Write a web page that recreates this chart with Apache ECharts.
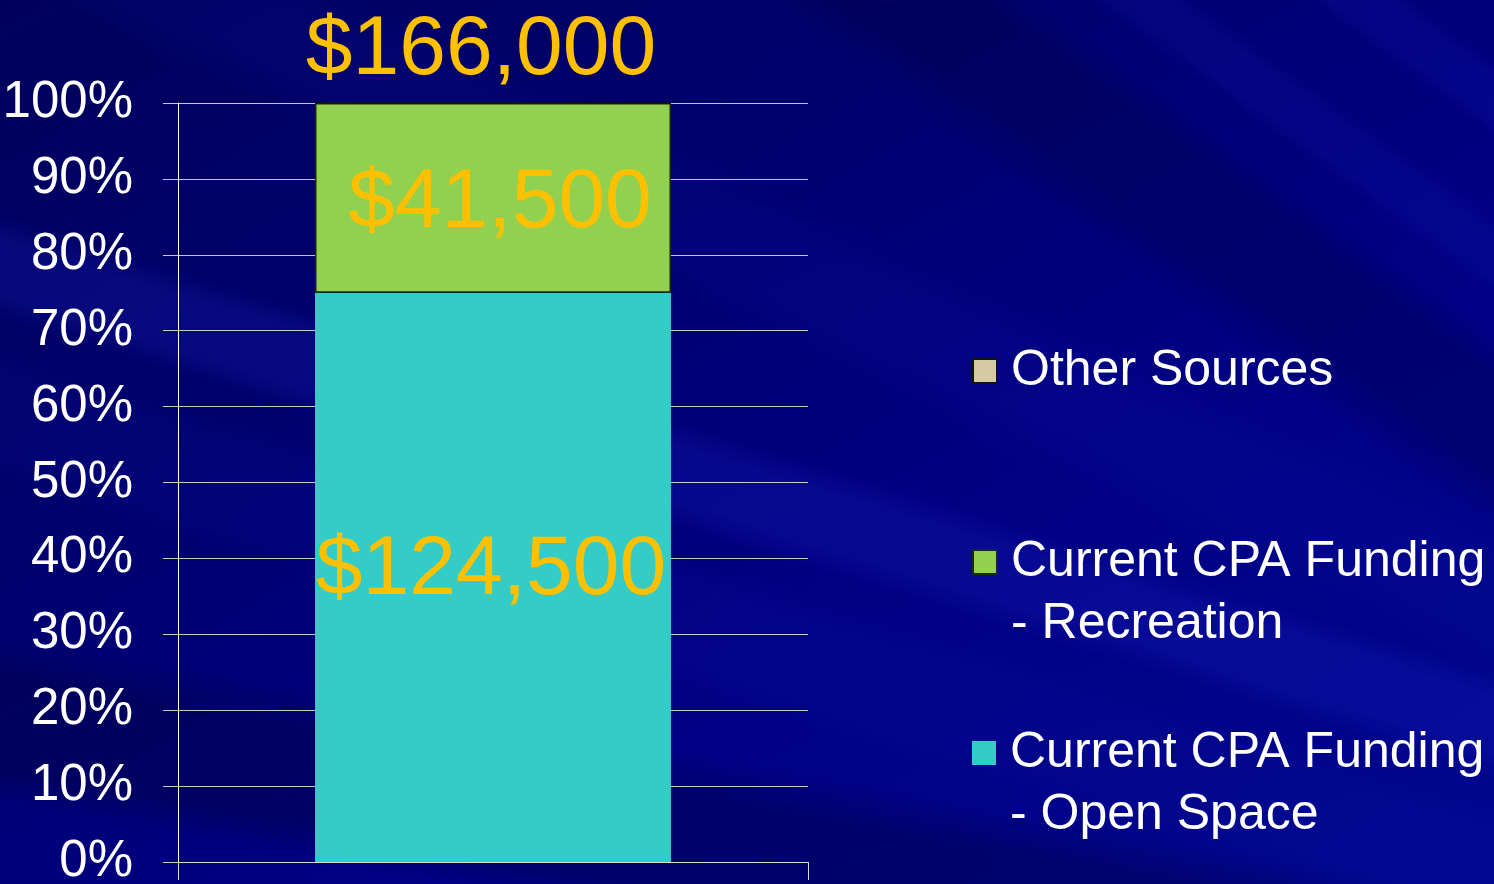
<!DOCTYPE html>
<html>
<head>
<meta charset="utf-8">
<script src="https://cdn.jsdelivr.net/npm/echarts@6/dist/echarts.min.js"></script>
<style>
  html, body {
    margin: 0;
    padding: 0;
    width: 100%;
    height: 100%;
    overflow: hidden;
  }
  body {
    background:
      linear-gradient(216deg, transparent 3%, rgba(20, 30, 190, 0.18) 4%, rgba(20, 30, 190, 0.18) 6%, transparent 7%),
      linear-gradient(216deg, transparent 11%, rgba(20, 30, 180, 0.18) 12%, rgba(20, 30, 180, 0.18) 14%, transparent 15%),
      linear-gradient(216deg, transparent 17%, rgba(0, 0, 50, 0.25) 19%, rgba(0, 0, 50, 0.25) 24%, transparent 27%),
      linear-gradient(205deg, transparent 33%, rgba(20, 30, 180, 0.12) 36%, rgba(20, 30, 180, 0.12) 40%, transparent 43%),
      linear-gradient(197deg, transparent 50%, rgba(30, 40, 200, 0.22) 52%, rgba(30, 40, 200, 0.22) 56%, transparent 58%),
      linear-gradient(197deg, transparent 60%, rgba(20, 30, 170, 0.12) 62%, rgba(20, 30, 170, 0.12) 68%, transparent 70%),
      linear-gradient(190deg, transparent 78%, rgba(0, 0, 40, 0.30) 82%, rgba(0, 0, 40, 0.30) 90%, transparent 93%),
      linear-gradient(150deg, #00005c 0%, #00006c 30%, #000082 60%, #00068f 100%);
  }
  #chart {
    width: 1494px;
    height: 884px;
  }
</style>
</head>
<body>
<div id="chart"></div>
<script>
const categories = ['Funding'];
const openSpace = [124500];
const recreation = [41500];
const otherSources = [0];
const yTicks = [0, 10, 20, 30, 40, 50, 60, 70, 80, 90, 100];

const totals = categories.map((c, i) => openSpace[i] + recreation[i] + otherSources[i]);
const toPct = (arr) => arr.map((v, i) => ({ value: v / totals[i] * 100, raw: v }));
const money = (v) => '$' + v.toLocaleString('en-US');

const labelFont = {
  color: '#ffc000',
  fontSize: 84,
  fontFamily: 'Liberation Sans, Arial, sans-serif'
};

const legendText = {
  color: '#ffffff',
  fontSize: 50,
  lineHeight: 62,
  fontFamily: 'Liberation Sans, Arial, sans-serif'
};

const legendBase = {
  orient: 'vertical',
  left: 972,
  padding: 0,
  itemWidth: 33,
  selectedMode: false,
  textStyle: legendText,
  formatter: (name) => name.replace(' - ', '\n- ')
};

const chart = echarts.init(document.getElementById('chart'));

chart.setOption({
  backgroundColor: 'transparent',
  animation: false,
  grid: {
    left: 178,
    right: 686,
    top: 103,
    bottom: 22,
    containLabel: false,
    outerBoundsMode: 'none'
  },
  legend: [
    {
      ...legendBase,
      top: 340,
      itemHeight: 24,
      icon: 'path://M0,0h24v24h-24z M33,0',
      data: ['Other Sources']
    },
    {
      ...legendBase,
      top: 530,
      itemHeight: 124,
      icon: 'path://M0,19h24v24h-24z M0,0 M33,124',
      data: ['Current CPA Funding - Recreation']
    },
    {
      ...legendBase,
      top: 722,
      itemHeight: 124,
      icon: 'path://M0,19h24v24h-24z M0,0 M33,124',
      data: ['Current CPA Funding - Open Space']
    }
  ],
  xAxis: {
    type: 'category',
    data: categories,
    axisLine: { lineStyle: { color: '#d8d8d8', width: 1 } },
    axisTick: { show: true, length: 18, lineStyle: { color: '#d8d8d8' } },
    axisLabel: { show: false },
    splitLine: { show: false }
  },
  yAxis: {
    type: 'value',
    min: yTicks[0],
    max: yTicks[yTicks.length - 1],
    interval: 10,
    axisLine: { show: true, lineStyle: { color: '#ffffff', width: 1 } },
    axisTick: { show: true, length: 15, lineStyle: { color: '#c8c8c8' } },
    axisLabel: {
      margin: 45,
      color: '#ffffff',
      fontSize: 51,
      fontFamily: 'Liberation Sans, Arial, sans-serif',
      formatter: '{value}%'
    },
    splitLine: { show: true, lineStyle: { color: '#c8c8c8', width: 1 } }
  },
  series: [
    {
      name: 'Current CPA Funding - Open Space',
      type: 'bar',
      stack: 'total',
      barWidth: '56.5%',
      data: toPct(openSpace),
      itemStyle: { color: '#33ccc6', borderWidth: 0 },
      label: {
        show: true,
        position: 'inside',
        offset: [-2, -7],
        ...labelFont,
        formatter: (p) => money(p.data.raw)
      }
    },
    {
      name: 'Current CPA Funding - Recreation',
      type: 'bar',
      stack: 'total',
      data: toPct(recreation),
      itemStyle: { color: '#92d050', borderColor: '#1a2a10', borderWidth: 1.5 },
      label: {
        show: true,
        position: 'inside',
        offset: [7, 6],
        ...labelFont,
        formatter: (p) => money(p.data.raw)
      }
    },
    {
      name: 'Other Sources',
      type: 'bar',
      stack: 'total',
      data: toPct(otherSources),
      itemStyle: { color: '#d6caa4', borderColor: '#111111', borderWidth: 1.5 },
      label: {
        show: true,
        position: 'top',
        distance: 9,
        offset: [-12, 0],
        ...labelFont,
        formatter: (p) => money(totals[p.dataIndex])
      }
    }
  ]
});

window.addEventListener('resize', () => {
  chart.resize();
});
</script>
</body>
</html>
